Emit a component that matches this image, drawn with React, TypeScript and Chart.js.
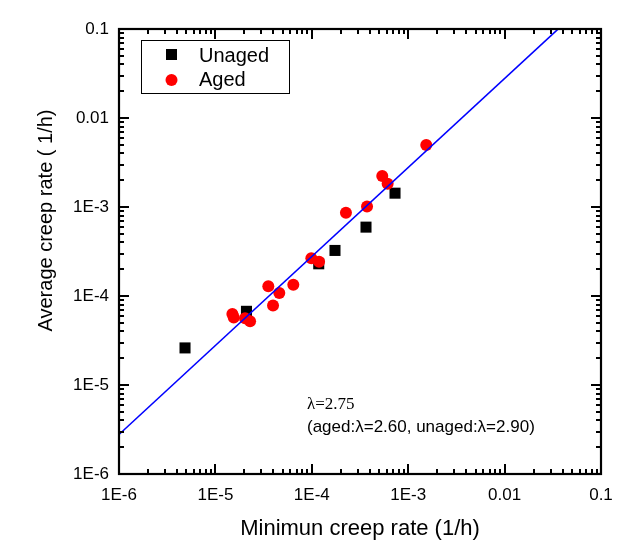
import React, { useEffect, useRef } from "react";
import { Chart, registerables } from "chart.js";

Chart.register(...registerables);

// ---- data ----
const unagedX = [7.3e-4, 3.65e-4, 1.74e-4, 1.18e-4, 2.1e-5, 4.84e-6];
const unagedY = [1.43e-3, 5.94e-4, 3.25e-4, 2.3e-4, 6.73e-5, 2.61e-5];

const agedX = [
  1.54e-3, 5.38e-4, 6.12e-4, 3.74e-4, 2.26e-4, 9.89e-5, 1.19e-4, 3.54e-5,
  6.43e-5, 4.6e-5, 3.96e-5, 1.5e-5, 1.55e-5, 2.03e-5, 2.29e-5,
];
const agedY = [
  4.98e-3, 2.23e-3, 1.83e-3, 1.01e-3, 8.63e-4, 2.66e-4, 2.42e-4, 1.29e-4,
  1.34e-4, 1.08e-4, 7.8e-5, 6.29e-5, 5.75e-5, 5.61e-5, 5.19e-5,
];

const fitX = [1e-6, 0.1];
const fitY = [2.78e-6, 0.278];

const tickValues = [1e-6, 1e-5, 1e-4, 1e-3, 1e-2, 1e-1];
const tickLabels = ["1E-6", "1E-5", "1E-4", "1E-3", "0.01", "0.1"];
const legendLabels = ["Unaged", "Aged"];
const xTitle = "Minimun creep rate (1/h)";
const yTitle = "Average creep rate ( 1/h)";
const noteLine1 = "λ=2.75";
const noteLine2 = "(aged:λ=2.60, unaged:λ=2.90)";

const SANS = "'Liberation Sans', Arial, sans-serif";
const SERIF = "'Liberation Serif', 'Times New Roman', serif";

const decorPlugin = {
  id: "decor",
  afterDraw(chart: any) {
    const { ctx, chartArea: ca, scales } = chart;
    const xs = scales.x;
    const ys = scales.y;
    ctx.save();
    ctx.strokeStyle = "#000";
    // ticks
    ctx.lineWidth = 2;
    for (let e = -6; e <= -1; e++) {
      for (let m = 1; m <= 9; m++) {
        const v = m * Math.pow(10, e);
        if (v > 0.1 * 1.0001) break;
        const len = m === 1 ? 10 : 5;
        const px = Math.round(xs.getPixelForValue(v));
        ctx.beginPath();
        ctx.moveTo(px, ca.bottom);
        ctx.lineTo(px, ca.bottom - len);
        ctx.moveTo(px, ca.top);
        ctx.lineTo(px, ca.top + len);
        ctx.stroke();
        const py = Math.round(ys.getPixelForValue(v));
        ctx.beginPath();
        ctx.moveTo(ca.left, py);
        ctx.lineTo(ca.left + len, py);
        ctx.moveTo(ca.right, py);
        ctx.lineTo(ca.right - len, py);
        ctx.stroke();
      }
    }
    // frame
    ctx.lineWidth = 2.2;
    ctx.strokeRect(ca.left, ca.top, ca.right - ca.left, ca.bottom - ca.top);

    // legend
    const lx = ca.left + 22;
    const ly = ca.top + 11;
    ctx.lineWidth = 1;
    ctx.strokeRect(lx + 0.5, ly + 0.5, 148, 53);
    ctx.fillStyle = "#000";
    ctx.fillRect(lx + 25, ly + 9, 11, 11);
    ctx.fillStyle = "#ff0000";
    ctx.beginPath();
    ctx.arc(lx + 30.5, ly + 40, 6, 0, Math.PI * 2);
    ctx.fill();
    ctx.fillStyle = "#000";
    ctx.font = "20px " + SANS;
    ctx.textAlign = "left";
    ctx.textBaseline = "alphabetic";
    ctx.fillText(legendLabels[0], lx + 58, ly + 22);
    ctx.fillText(legendLabels[1], lx + 58, ly + 46);

    // annotation
    ctx.font = "17px " + SERIF;
    ctx.fillText(noteLine1, 307, 409);
    ctx.font = "17px " + SANS;
    ctx.fillText(noteLine2, 307, 432);

    // axis titles
    ctx.font = "22px " + SANS;
    ctx.textAlign = "center";
    ctx.fillText(xTitle, (ca.left + ca.right) / 2, 535);
    ctx.save();
    ctx.translate(51.5, 220.5);
    ctx.rotate(-Math.PI / 2);
    ctx.font = "20px " + SANS;
    ctx.fillText(yTitle, 0, 0);
    ctx.restore();
    ctx.restore();
  },
};

function labelFor(v: number) {
  const i = tickValues.findIndex((t) => Math.abs(Math.log10(t) - Math.log10(v)) < 1e-6);
  return i >= 0 ? tickLabels[i] : "";
}

export default function App() {
  const ref = useRef<HTMLCanvasElement | null>(null);
  useEffect(() => {
    if (!ref.current) return;
    const chart = new Chart(ref.current, {
      type: "scatter",
      data: {
        datasets: [
          {
            type: "line",
            label: "fit",
            data: fitX.map((x, i) => ({ x, y: fitY[i] })),
            borderColor: "#0000ff",
            borderWidth: 1.6,
            pointRadius: 0,
            showLine: true,
            fill: false,
          } as any,
          {
            label: legendLabels[1],
            data: agedX.map((x, i) => ({ x, y: agedY[i] })),
            backgroundColor: "#ff0000",
            borderColor: "#ff0000",
            borderWidth: 0,
            pointStyle: "circle",
            pointRadius: 6,
          },
          {
            label: legendLabels[0],
            data: unagedX.map((x, i) => ({ x, y: unagedY[i] })),
            backgroundColor: "#000000",
            borderColor: "#000000",
            borderWidth: 0,
            pointStyle: "rect",
            pointRadius: 7.8,
          },
        ],
      },
      options: {
        responsive: false,
        animation: false,
        layout: { padding: { top: 29, right: 32, left: 0, bottom: 0 } },
        plugins: { legend: { display: false }, tooltip: { enabled: false } },
        scales: {
          x: {
            type: "logarithmic",
            min: 1e-6,
            max: 0.1,
            grid: { display: false, drawTicks: false },
            border: { display: false },
            afterBuildTicks: (s: any) => {
              s.ticks = tickValues.map((v) => ({ value: v }));
            },
            afterFit: (s: any) => {
              s.height = 82;
            },
            ticks: {
              autoSkip: false,
              maxRotation: 0,
              padding: 11,
              color: "#000",
              font: { size: 17, family: SANS },
              callback: (v: any) => labelFor(Number(v)),
            },
          },
          y: {
            type: "logarithmic",
            min: 1e-6,
            max: 0.1,
            grid: { display: false, drawTicks: false },
            border: { display: false },
            afterBuildTicks: (s: any) => {
              s.ticks = tickValues.map((v) => ({ value: v }));
            },
            afterFit: (s: any) => {
              s.width = 119;
            },
            ticks: {
              autoSkip: false,
              padding: 10,
              color: "#000",
              font: { size: 17, family: SANS },
              callback: (v: any) => labelFor(Number(v)),
            },
          },
        },
      },
      plugins: [decorPlugin],
    });
    return () => chart.destroy();
  }, []);
  return (
    <div style={{ position: "absolute", left: 0, top: 0, width: 633, height: 556, background: "#fff" }}>
      <canvas ref={ref} width={633} height={556} style={{ display: "block" }} />
    </div>
  );
}
